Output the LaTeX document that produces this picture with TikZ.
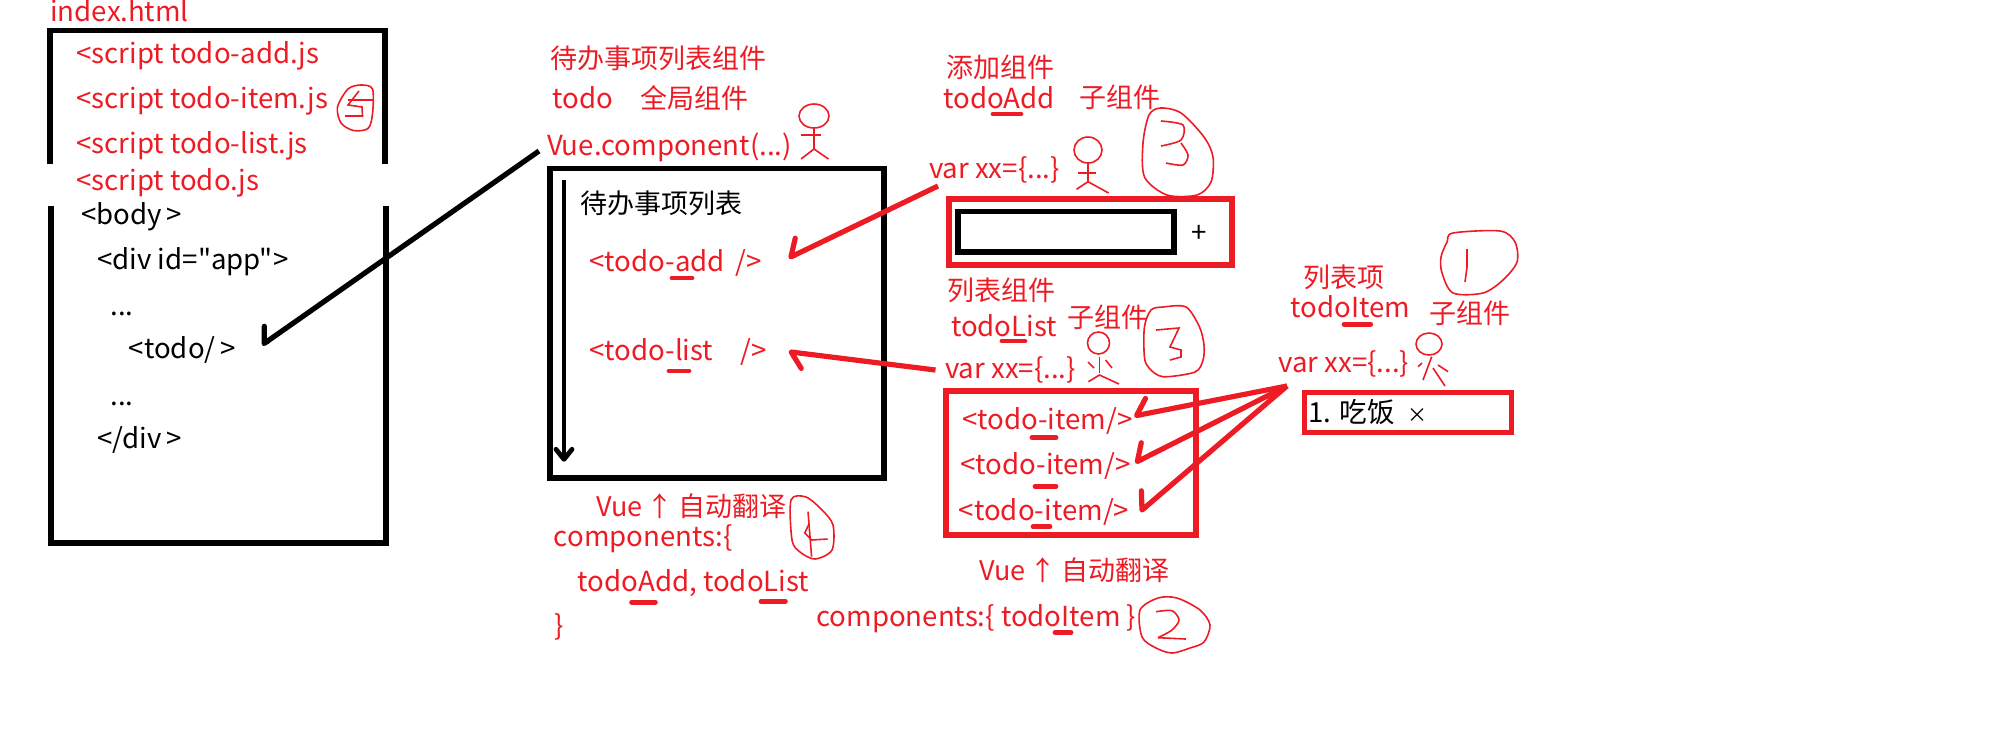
\documentclass[tikz,border=0pt]{standalone}
\usepackage{fontspec}
\setmainfont{Noto Sans CJK SC}[Ligatures=TeXOff]
\usetikzlibrary{arrows.meta}
\definecolor{penred}{HTML}{ED1C24}
\tikzset{
    redtxt/.style = {anchor=base west, inner sep=0pt, text=penred, font=\fontsize{13.8}{16}\selectfont},
    redcn/.style = {anchor=base west, inner sep=0pt, text=penred, font=\fontsize{13.5}{16}\selectfont},
    blacktxt/.style = {anchor=base west, inner sep=0pt, text=black, font=\fontsize{13.8}{16}\selectfont},
    boldbox/.style = {line width=2.6pt, draw=black},
    redbox/.style = {line width=3pt, draw=penred},
    ubar/.style = {penred, line width=2.4pt, line cap=round},
    hand/.style = {penred, line width=0.8pt},
    redarrow/.style = {penred, line width=2.6pt, -{Straight Barb[right, length=6pt, width=15pt, round]}},
    redarrowlow/.style = {penred, line width=2.6pt, -{Straight Barb[left, length=6pt, width=15pt, round]}},
    blackarrow/.style = {black, line width=2.6pt, -{Straight Barb[right, length=5pt, width=14pt, round]}},
}
\begin{document}
\begin{tikzpicture}[x=0.5pt, y=-0.5pt]
    \useasboundingbox (0, 0) rectangle (2016, 736);

    % boxes
    \draw[boldbox] (50, 164) -- (50, 30.5) -- (385, 30.5) -- (385, 164);
    \draw[boldbox] (51, 206) -- (51, 543) -- (386, 543) -- (386, 206);
    \draw[boldbox] (550, 168.5) rectangle (884, 478);
    \draw[redbox] (949, 198.5) rectangle (1232, 265);
    \draw[boldbox] (958, 211.5) rectangle (1174, 252);
    \draw[redbox] (946, 390.5) rectangle (1196, 535);
    \draw[redbox, line width=2.5pt] (1304.5, 392.5) rectangle (1511.5, 432.5);

    % index.html
    \node[redtxt] (indexname) at (50, 21.5) {index.html};
    \node[redtxt] (scriptadd) at (76, 63.6) {<script todo-add.js};
    \node[redtxt] (scriptitem) at (76, 108.6) {<script todo-item.js};
    \node[redtxt] (scriptlist) at (76, 153.6) {<script todo-list.js};
    \node[redtxt] (scripttodo) at (76, 190) {<script todo.js};
    \node[blacktxt] (bodytag) at (81, 224) {<body\,>};
    \node[blacktxt] (divtag) at (97, 269) {<div id="app">};
    \node[blacktxt] (dotsa) at (110, 315) {...};
    \node[blacktxt] (todotag) at (128.5, 358.6) {<todo/\,>};
    \node[blacktxt] (dotsb) at (110, 405) {...};
    \node[blacktxt] (divend) at (97, 448) {</div\,>};

    % todo
    \node[redcn] (todotitle) at (550, 68) {待办事项列表组件};
    \node[redtxt] (todoname) at (552, 108.7) {todo};
    \node[redcn] (todoglobal) at (640, 108) {全局组件};
    \node[redtxt] (vuecomp) at (546.6, 155) {Vue.component(...)};
    \node[blacktxt, font=\fontsize{13.5}{16}\selectfont] (todohead) at (579.7, 213) {待办事项列表};
    \node[redtxt] (todoadd) at (589, 271.7) {<todo-add \,/>};
    \node[redtxt] (todolist) at (589, 360.7) {<todo-list \ \ \,\,/>};
    \node[redcn] (vuea) at (596, 516.7) {Vue\,↑\,自动翻译};
    \node[redtxt] (compa) at (553.5, 546.7) {components:\{};
    \node[redtxt] (compb) at (577.4, 591.7) {todoAdd, todoList};
    \node[redtxt] (compc) at (554.4, 635) {\}};

    % todoAdd
    \node[redcn] (addtitle) at (946, 77) {添加组件};
    \node[redtxt] (addname) at (943, 108) {todoAdd};
    \node[redcn] (addchild) at (1079, 107) {子组件};
    \node[redtxt] (varadd) at (928.6, 178) {var xx=\{...\}};
    \node[blacktxt] (plus) at (1191, 242) {+};

    % todoList
    \node[redcn] (listtitle) at (947, 300) {列表组件};
    \node[redtxt] (listname) at (950.7, 336.7) {todoList};
    \node[redcn] (listchild) at (1067, 327) {子组件};
    \node[redtxt] (varlist) at (944.7, 378) {var xx=\{...\}};
    \node[redtxt] (itema) at (961.7, 429.3) {<todo-item/>};
    \node[redtxt] (itemb) at (960, 474.3) {<todo-item/>};
    \node[redtxt] (itemc) at (958.5, 520) {<todo-item/>};
    \node[redcn] (vueb) at (979, 580.7) {Vue\,↑\,自动翻译};
    \node[redtxt] (compd) at (816, 626) {components:\{ todoItem \}};

    % todoItem
    \node[redcn] (itemtitle) at (1303, 287) {列表项};
    \node[redtxt] (itemname) at (1290, 317) {todoItem};
    \node[redcn] (itemchild) at (1429, 323) {子组件};
    \node[redtxt] (varitem) at (1278, 372.7) {var xx=\{...\}};
    \node[blacktxt] (meal) at (1308, 422) {1. 吃饭 \ {\fontsize{10}{10}\selectfont ×}};

    % underlines
    \draw[ubar] (672, 278) -- (692, 278);
    \draw[ubar] (669, 371) -- (689, 371);
    \draw[ubar] (993, 114) -- (1021, 114);
    \draw[ubar] (1002, 341) -- (1025, 341);
    \draw[ubar] (1032, 437.3) -- (1056, 437.3);
    \draw[ubar] (1035, 486.3) -- (1056, 486.3);
    \draw[ubar] (1033, 526.7) -- (1050, 526.7);
    \draw[ubar] (631.6, 602.3) -- (655.4, 602.3);
    \draw[ubar] (761, 601.3) -- (785.4, 601.3);
    \draw[ubar] (1055, 632.3) -- (1071, 632.3);
    \draw[ubar] (1344, 324.3) -- (1370.7, 324.3);

    % connectors
    \coordinate (flowtop) at (564, 180);
    \coordinate (flowend) at (564, 461.7);
    \draw[black, line width=2.4pt, -{Straight Barb[length=5pt, width=8pt, round]}] (flowtop) -- (flowend);
    \draw[blackarrow] ([shift={(-7.6, -4)}]vuecomp.base west) -- ([shift={(133.5, -13.6)}]todotag.base west);
    \draw[redarrow] ([shift={(9.4, 8)}]varadd.base west) -- ([shift={(199.6, -13.7)}]todoadd.base west);
    \draw[redarrowlow] ([shift={(-9.2, -8)}]varlist.base west) -- ([shift={(199.6, -9)}]todolist.base west);
    \draw[redarrow] ([shift={(9, 13.3)}]varitem.base west) -- ([shift={(172.3, -13.3)}]itema.base west);
    \draw[redarrow] ([shift={(9, 13.3)}]varitem.base west) -- ([shift={(175, -11.6)}]itemb.base west);
    \draw[redarrow] ([shift={(9, 13.3)}]varitem.base west) -- ([shift={(181.5, -8.3)}]itemc.base west);

    % stick figures
    \draw[hand] (814, 116) ellipse (15 and 12);
    \draw[hand] (814, 128) -- (814, 149) -- (801, 159);
    \draw[hand] (814, 149) -- (828.5, 159);
    \draw[hand] (801, 135) -- (821, 135);
    \draw[hand] (1088, 150) ellipse (14 and 13);
    \draw[hand] (1088, 163) -- (1088, 181.7) -- (1076.5, 189.3);
    \draw[hand] (1088, 181.7) -- (1108.6, 193);
    \draw[hand] (1078, 173) -- (1096, 173);
    \draw[hand] (1098.5, 343) ellipse (11 and 11);
    \draw[hand] (1099.4, 356.7) -- (1099.4, 373);
    \draw[hand] (1088, 362) -- (1094, 368);
    \draw[hand] (1105.6, 360) -- (1112, 368);
    \draw[hand] (1088.4, 381.7) -- (1099.4, 375) -- (1119, 384);
    \draw[hand] (1429, 344) ellipse (13 and 11);
    \draw[hand] (1431.7, 356.7) -- (1423, 380);
    \draw[hand] (1418, 366.7) -- (1422, 363);
    \draw[hand] (1438, 365) -- (1448, 371.7);
    \draw[hand] (1433, 368) -- (1445, 386);

    % circled numbers
    \draw[hand] plot[smooth cycle] coordinates {(337.5, 107) (348, 89) (361, 85) (372.5, 89) (372.5, 114) (368, 128.5) (353.5, 130.5) (341, 123)};
    \draw[hand] (359, 91) -- (348, 105) -- (362, 107) -- (362.5, 116) -- (345, 116);
    \draw[hand] (348, 100) -- (373, 100);
    \draw[hand] plot[smooth cycle] coordinates {(1160.5, 108) (1181, 113) (1204, 137) (1213, 157) (1211, 182) (1197, 195) (1167, 195) (1144.5, 177) (1143, 143) (1149, 115)};
    \draw[hand] plot[smooth] coordinates {(1161, 121) (1183, 125) (1181, 140) (1161, 146)};
    \draw[hand] plot[smooth] coordinates {(1181, 143) (1188, 155) (1183, 165) (1166, 163)};
    \draw[hand] plot[smooth cycle] coordinates {(1163, 307) (1186, 307) (1199.5, 327) (1204, 345) (1203, 360) (1195, 372) (1163, 376.7) (1149, 368) (1144.4, 357) (1144.4, 327) (1151, 310)};
    \draw[hand] (1156, 330) -- (1179, 328) -- (1170, 347) -- (1181, 350) -- (1181, 357) -- (1170, 360);
    \draw[hand] plot[smooth cycle] coordinates {(791, 500) (806, 497) (822, 510) (833, 525) (832, 550) (815, 559) (800, 552) (792, 540)};
    \draw[hand] (808, 511.7) -- (809, 524) -- (804.7, 533) -- (811.6, 540) -- (827.6, 539);
    \draw[hand] (809, 524) -- (811.6, 556.7);
    \draw[hand] plot[smooth cycle] coordinates {(1158, 598) (1177, 598) (1200, 610) (1210, 625) (1204, 642) (1190, 648) (1172, 653) (1156, 648) (1142, 637) (1140, 610)};
    \draw[hand] plot[smooth] coordinates {(1156, 611.7) (1172, 610.7) (1179, 620) (1172, 630) (1158, 637.7)};
    \draw[hand] (1158, 637.7) -- (1186, 639);
    \draw[hand] plot[smooth cycle] coordinates {(1453, 233) (1500, 231) (1515, 242) (1517, 262) (1503, 280) (1483, 293) (1453, 293) (1442, 273) (1441, 257) (1447, 242)};
    \draw[hand] (1467, 249) -- (1467, 267) -- (1465, 282);
\end{tikzpicture}
\end{document}
